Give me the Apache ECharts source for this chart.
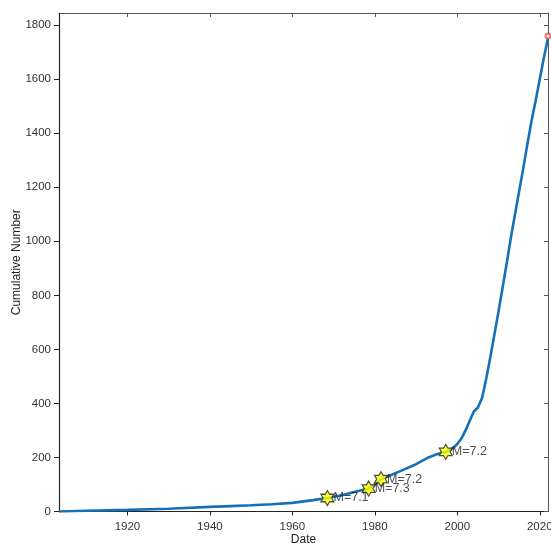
<!DOCTYPE html>
<html>
<head>
<meta charset="utf-8">
<script src="https://cdn.jsdelivr.net/npm/echarts@6/dist/echarts.min.js"></script>
<style>
html,body{margin:0;padding:0;background:#fff;}
#c{width:551px;height:544px;}
</style>
</head>
<body>
<div id="c"></div>
<script>
// Cumulative curve
var years = [1903.4, 1910, 1920, 1930, 1940, 1945, 1950, 1955, 1960, 1965, 1968.5, 1972, 1975, 1978.5, 1980, 1981.5, 1984, 1987, 1990, 1993, 1995, 1997.2, 1999, 2000, 2001, 2002, 2003, 2004, 2005, 2006, 2007, 2008, 2009, 2010, 2011, 2012, 2013, 2014, 2015, 2016, 2017, 2018, 2019, 2020, 2021, 2022];
var cumulative = [0, 3, 6, 10, 17, 20, 23, 27, 32, 42, 50, 60, 72, 85, 100, 120, 135, 155, 175, 200, 212, 221, 235, 250, 270, 300, 335, 370, 385, 420, 490, 570, 655, 740, 830, 920, 1014, 1100, 1185, 1270, 1360, 1445, 1520, 1600, 1680, 1752];
// Large events
var starYears = [1968.5, 1978.5, 1981.5, 1997.2];
var starValues = [50, 85, 120, 221];
var starLabels = ['M=7.1', 'M=7.3', 'M=7.2', 'M=7.2'];
// End marker
var endYear = [2022];
var endValue = [1760];
// Ticks
var xTicks = [1920, 1940, 1960, 1980, 2000, 2020];
var yTicks = [0, 200, 400, 600, 800, 1000, 1200, 1400, 1600, 1800];

var lineData = years.map(function (y, i) { return [y, cumulative[i]]; });
var starData = starYears.map(function (y, i) { return { value: [y, starValues[i]], name: starLabels[i] }; });
var endData = endYear.map(function (y, i) { return [y, endValue[i]]; });

var hexagram = 'path://M0,-10 L2.887,-5 L8.66,-5 L5.774,0 L8.66,5 L2.887,5 L0,10 L-2.887,5 L-8.66,5 L-5.774,0 L-8.66,-5 L-2.887,-5 Z';
var font = "'Liberation Sans', Arial, sans-serif";
var plain = function (v) { return String(v); };

var chart = echarts.init(document.getElementById('c'), null, { renderer: 'canvas' });
var axisX = {
  type: 'value', min: 1903.4, max: 2022,
  splitLine: { show: false }
};
chart.setOption({
  backgroundColor: '#fff',
  animation: false,
  grid: { left: 59, right: 3, top: 13, bottom: 32.5, containLabel: false, outerBoundsMode: 'none' },
  xAxis: [
    Object.assign({}, axisX, {
      position: 'bottom',
      name: 'Date', nameLocation: 'middle', nameGap: 22, nameMoveOverlap: false,
      nameTextStyle: { fontFamily: font, fontSize: 12, color: '#222' },
      axisLine: { onZero: false, lineStyle: { color: '#222', width: 1.2 } },
      axisTick: { show: true, inside: false, length: 4, customValues: xTicks, lineStyle: { color: '#222' } },
      axisLabel: { customValues: xTicks, formatter: plain, margin: 9, fontFamily: font, fontSize: 11.5, color: '#333' }
    }),
    Object.assign({}, axisX, {
      position: 'top',
      axisLine: { onZero: false, lineStyle: { color: '#555', width: 1 } },
      axisTick: { show: true, inside: true, length: 4, customValues: xTicks, lineStyle: { color: '#555' } },
      axisLabel: { show: false }
    })
  ],
  yAxis: [
    {
      type: 'value', min: 0, max: 1845, position: 'left',
      splitLine: { show: false },
      name: 'Cumulative Number', nameLocation: 'middle', nameGap: 36, nameMoveOverlap: false,
      nameTextStyle: { fontFamily: font, fontSize: 12, color: '#222' },
      axisLine: { show: true, onZero: false, lineStyle: { color: '#222', width: 1.2 } },
      axisTick: { show: true, inside: false, length: 5, customValues: yTicks, lineStyle: { color: '#222' } },
      axisLabel: { customValues: yTicks, formatter: plain, margin: 8, fontFamily: font, fontSize: 11.5, color: '#333' }
    },
    {
      type: 'value', min: 0, max: 1845, position: 'right',
      splitLine: { show: false },
      axisLine: { show: true, onZero: false, lineStyle: { color: '#555', width: 1 } },
      axisTick: { show: true, inside: true, length: 4, customValues: yTicks, lineStyle: { color: '#555' } },
      axisLabel: { show: false }
    }
  ],
  series: [
    {
      type: 'line', xAxisIndex: 0, yAxisIndex: 0,
      data: lineData, showSymbol: false, symbol: 'none',
      lineStyle: { color: '#1670b8', width: 2.6 },
      z: 2
    },
    {
      type: 'scatter', xAxisIndex: 0, yAxisIndex: 0,
      data: starData, symbol: hexagram, symbolSize: [13, 15],
      itemStyle: { color: '#ffff00', borderColor: '#222', borderWidth: 1.2 },
      label: {
        show: true, position: 'right', distance: -1,
        formatter: function (p) { return p.name; },
        fontFamily: font, fontSize: 12.5, color: '#222'
      },
      labelLayout: { hideOverlap: false },
      z: 3
    },
    {
      type: 'scatter', xAxisIndex: 0, yAxisIndex: 0,
      data: endData, symbol: 'emptyCircle', symbolSize: 5,
      itemStyle: { color: '#e05050', borderColor: '#e05050', borderWidth: 1 },
      z: 4
    }
  ]
});
</script>
</body>
</html>
